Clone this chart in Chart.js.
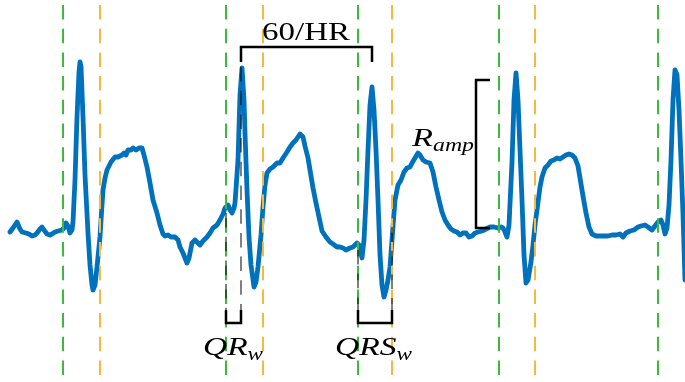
<!DOCTYPE html>
<html>
<head>
<meta charset="utf-8">
<script src="https://cdn.jsdelivr.net/npm/chart.js@4.4.1/dist/chart.umd.min.js"></script>
<style>
  html, body { margin: 0; padding: 0; background: #ffffff; }
  #wrap { width: 685px; height: 382px; }
</style>
</head>
<body>
<div id="wrap"><canvas id="c" width="685" height="382"></canvas></div>
<script>
// ECG excerpt: sample index and amplitude (mV)
const sampleIdx = [
  10,13,17,20,22,26,29,32,35,37,40,42,44,47,50,52,55,58,62,64,66,68,70,72,73,75,77,79,80,81,83,85,88,90,92,93,95,97,
  100,102,103,105,107,111,115,118,122,124,126,128,131,133,136,139,142,144,147,150,153,157,160,163,165,168,171,175,178,
  180,183,187,189,192,195,197,200,203,207,210,213,217,220,223,225,228,230,232,234,235,238,240,242,244,245,247,249,251,
  254,256,258,261,263,265,267,270,273,277,280,283,287,290,293,296,298,300,303,305,308,310,313,316,319,322,326,330,333,
  337,340,343,346,350,353,357,359,362,364,366,368,370,372,374,376,378,380,382,384,386,388,390,392,395,398,401,404,407,
  410,412,415,418,420,423,426,430,433,436,439,442,445,448,451,454,457,460,463,466,469,472,475,478,482,486,490,494,498,
  501,503,505,507,509,512,514,516,518,520,522,524,526,528,531,533,535,537,540,542,545,548,551,554,557,560,563,566,569,
  572,575,578,580,583,586,589,592,596,600,604,608,612,616,620,623,626,630,634,638,641,645,648,652,655,658,661,663,665,
  667,669,671,673,675,677,679,681,683,685
];
const ecgMv = [
  0.00,0.04,0.10,0.03,0.00,-0.01,-0.02,-0.04,-0.03,-0.01,0.03,0.05,0.02,-0.02,-0.03,-0.02,0.00,0.01,0.02,0.04,0.09,0.06,-0.01,0.02,0.10,0.52,1.15,1.60,1.70,1.66,1.15,0.57,-0.01,-0.33,-0.53,-0.58,-0.53,-0.35,
  -0.05,0.27,0.42,0.54,0.62,0.70,0.75,0.75,0.77,0.79,0.77,0.82,0.82,0.84,0.82,0.84,0.84,0.77,0.65,0.49,0.32,0.19,0.07,-0.02,-0.04,-0.03,-0.05,-0.05,-0.08,
  -0.15,-0.21,-0.31,-0.26,-0.11,-0.08,-0.10,-0.13,-0.09,-0.05,-0.01,0.04,0.07,0.12,0.18,0.24,0.27,0.22,0.19,0.24,0.29,0.72,1.37,1.64,1.32,0.99,0.42,-0.05,-0.33,
  -0.55,-0.50,-0.35,-0.03,0.25,0.47,0.59,0.63,0.65,0.69,0.69,0.74,0.80,0.85,0.89,0.92,0.95,0.98,0.95,0.86,0.74,0.62,0.44,0.29,0.15,0.01,-0.05,-0.10,-0.12,
  -0.15,-0.15,-0.16,-0.18,-0.16,-0.15,-0.11,-0.13,-0.26,-0.08,0.32,0.82,1.27,1.45,1.22,0.82,0.32,-0.23,-0.53,-0.65,-0.58,-0.48,-0.35,-0.08,0.32,0.47,0.52,0.60,0.64,
  0.65,0.69,0.74,0.79,0.77,0.72,0.70,0.69,0.60,0.45,0.32,0.20,0.12,0.07,0.03,0.01,0.00,-0.03,-0.01,-0.01,-0.05,-0.04,-0.01,0.00,0.01,0.03,0.05,0.05,0.04,
  0.05,0.04,0.00,-0.05,0.07,0.70,1.32,1.59,1.32,0.82,0.32,-0.23,-0.51,-0.48,-0.30,-0.13,0.07,0.22,0.45,0.55,0.64,0.67,0.71,0.72,0.74,0.73,0.75,0.77,0.78,
  0.77,0.74,0.66,0.54,0.36,0.19,0.05,-0.02,-0.04,-0.04,-0.04,-0.04,-0.03,-0.03,-0.02,-0.05,-0.01,0.01,0.02,0.05,0.06,0.07,0.05,0.02,0.06,0.10,0.12,0.07,-0.02,
  0.04,0.27,0.72,1.32,1.62,1.57,1.22,0.72,0.17,-0.48
];

// Fiducial points (sample index)
const qOnsets = [63, 226, 358, 499, 658];
const sOffsets = [100, 263, 392, 535];
const rPeaks = [241, 372];

// Amplitude read-outs used by the interval markers (mV)
const qrAmpAtQ = 0.24;      // trace level at the Q onset of beat 2
const qrsAmpAtQ = -0.13;    // trace level at the Q onset of beat 3
const qrsAmpAtS = 0.10;     // trace level at the S offset of beat 3
const rampTop = 1.52;       // R amplitude level (beat 4)
const rampBase = 0.04;      // isoelectric baseline (beat 4)

const Y_MIN = -1.5, Y_MAX = 2.32, X_MIN = 0, X_MAX = 685;

// marker geometry in data units
const hrBarLevel = 1.85, hrTickEnd = 1.70;
const wBarLevel = -0.91, wTickEnd = -0.78;
const rampBarX = 476, rampTickX = 490;

const GREEN = '#3dba3d';
const ORANGE = '#f7b93c';
const DASH = [14.5, 9.2];
const DASH_OFFSET = 18.7;

function vline(x, y0, y1, color, order) {
  return {
    data: [{x: x, y: y0}, {x: x, y: y1}],
    borderColor: color, borderWidth: 2, borderDash: DASH, borderDashOffset: DASH_OFFSET,
    borderCapStyle: 'butt', pointRadius: 0, order: order, tension: 0
  };
}
function bracket(points) {
  return {
    data: points, borderColor: '#000000', borderWidth: 2.5,
    borderJoinStyle: 'miter', borderCapStyle: 'butt', pointRadius: 0, order: 0, tension: 0
  };
}

const datasets = [];
datasets.push({
  data: sampleIdx.map((t, i) => ({x: t, y: ecgMv[i]})),
  borderColor: '#0072bd', borderWidth: 4.8, borderJoinStyle: 'round', borderCapStyle: 'round',
  pointRadius: 0, tension: 0, order: 10
});
qOnsets.forEach(x => datasets.push(vline(x, Y_MAX, Y_MIN, GREEN, 5)));
sOffsets.forEach(x => datasets.push(vline(x, Y_MAX, Y_MIN, ORANGE, 5)));

const GRAY = 'rgba(0,0,0,0.5)';
datasets.push(vline(qOnsets[1], qrAmpAtQ, wTickEnd, GRAY, 2));
datasets.push(vline(rPeaks[0], hrTickEnd, wTickEnd, GRAY, 2));
datasets.push(vline(qOnsets[2], qrsAmpAtQ, wTickEnd, GRAY, 2));
datasets.push(vline(sOffsets[2], qrsAmpAtS, wTickEnd, GRAY, 2));

// 60/HR bracket between consecutive R peaks
datasets.push(bracket([{x: rPeaks[0], y: hrTickEnd}, {x: rPeaks[0], y: hrBarLevel},
                       {x: rPeaks[1], y: hrBarLevel}, {x: rPeaks[1], y: hrTickEnd}]));
// QR width
datasets.push(bracket([{x: qOnsets[1], y: wTickEnd}, {x: qOnsets[1], y: wBarLevel},
                       {x: rPeaks[0], y: wBarLevel}, {x: rPeaks[0], y: wTickEnd}]));
// QRS width
datasets.push(bracket([{x: qOnsets[2], y: wTickEnd}, {x: qOnsets[2], y: wBarLevel},
                       {x: sOffsets[2], y: wBarLevel}, {x: sOffsets[2], y: wTickEnd}]));
// R amplitude
datasets.push(bracket([{x: rampTickX, y: rampTop}, {x: rampBarX, y: rampTop},
                       {x: rampBarX, y: rampBase}, {x: rampTickX, y: rampBase}]));

// Labels: pieces of [text, italic, subscript]; span in samples, baseline in mV
const labels = [
  {pieces: [['60/HR', false, false]], left: 262, right: 350, base: 1.92},
  {pieces: [['QR', true, false], ['w', true, true]], left: 203, right: 263, base: -1.23},
  {pieces: [['QRS', true, false], ['w', true, true]], left: 335, right: 412, base: -1.23},
  {pieces: [['R', true, false], ['amp', true, true]], left: 412, right: 474, base: 0.86}
];

const labelPlugin = {
  id: 'mathLabels',
  afterDatasetsDraw(chart) {
    const ctx = chart.ctx, xs = chart.scales.x, ys = chart.scales.y;
    const fam = '"Liberation Serif", "Times New Roman", serif';
    const fontOf = (p) => (p[1] ? 'italic ' : '') + (p[2] ? '18px ' : '26px ') + fam;
    labels.forEach(l => {
      ctx.save();
      let w = 0;
      l.pieces.forEach(p => { ctx.font = fontOf(p); w += ctx.measureText(p[0]).width; });
      const x0 = xs.getPixelForValue(l.left), x1 = xs.getPixelForValue(l.right);
      const yb = ys.getPixelForValue(l.base);
      const sx = (x1 - x0) / w;
      ctx.translate(x0, yb);
      ctx.scale(sx, 1);
      ctx.fillStyle = '#000000';
      ctx.textBaseline = 'alphabetic';
      ctx.textAlign = 'left';
      let cx = 0;
      l.pieces.forEach(p => {
        ctx.font = fontOf(p);
        ctx.fillText(p[0], cx, p[2] ? 5 : 0);
        cx += ctx.measureText(p[0]).width;
      });
      ctx.restore();
    });
  }
};

new Chart(document.getElementById('c'), {
  type: 'line',
  data: {datasets: datasets},
  options: {
    responsive: false, animation: false, devicePixelRatio: 1, events: [],
    layout: {padding: 0},
    plugins: {legend: {display: false}, tooltip: {enabled: false}},
    scales: {
      x: {type: 'linear', min: X_MIN, max: X_MAX, display: false},
      y: {type: 'linear', min: Y_MIN, max: Y_MAX, display: false}
    }
  },
  plugins: [labelPlugin]
});
</script>
</body>
</html>
